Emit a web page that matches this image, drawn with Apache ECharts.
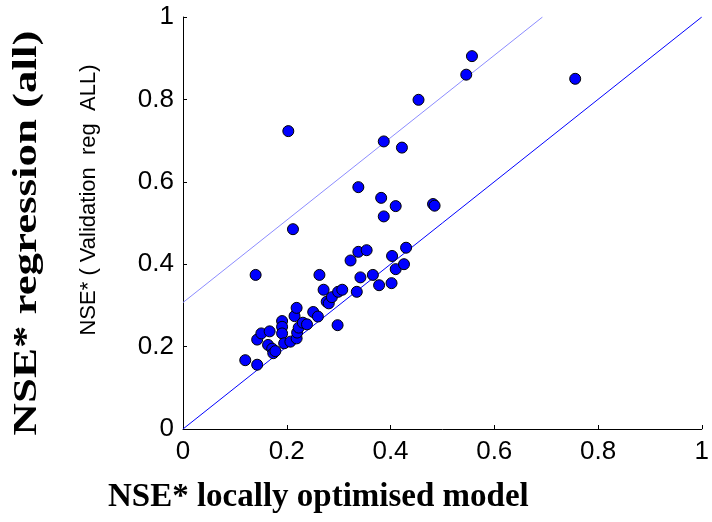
<!DOCTYPE html>
<html>
<head>
<meta charset="utf-8">
<script src="https://cdn.jsdelivr.net/npm/echarts@6/dist/echarts.min.js"></script>
<style>
  html, body { margin: 0; padding: 0; background: #fff; }
  #chart-container { width: 712px; height: 522px; }
</style>
</head>
<body>
<div id="chart-container"></div>
<script>
// NSE* locally optimised model (x) vs NSE* regression (y)
var localNse = [
  0.120, 0.143, 0.140, 0.143, 0.151, 0.167, 0.164, 0.172, 0.174, 0.178,
  0.191, 0.191, 0.191, 0.195, 0.203, 0.207, 0.212, 0.215, 0.219, 0.219,
  0.220, 0.223, 0.231, 0.239, 0.251, 0.260, 0.263, 0.271, 0.277, 0.281,
  0.287, 0.299, 0.307, 0.298, 0.323, 0.335, 0.338, 0.338, 0.342, 0.354,
  0.366, 0.378, 0.382, 0.387, 0.387, 0.402, 0.403, 0.410, 0.410, 0.422,
  0.426, 0.430, 0.454, 0.482, 0.485, 0.546, 0.557, 0.756
];
var regressionNse = [
  0.167, 0.156, 0.374, 0.217, 0.232, 0.237, 0.204, 0.195, 0.184, 0.189,
  0.262, 0.248, 0.232, 0.208, 0.723, 0.212, 0.485, 0.274, 0.294, 0.220,
  0.234, 0.246, 0.258, 0.254, 0.284, 0.273, 0.374, 0.338, 0.309, 0.305,
  0.320, 0.333, 0.338, 0.252, 0.409, 0.333, 0.430, 0.587, 0.368, 0.434,
  0.374, 0.349, 0.561, 0.698, 0.516, 0.354, 0.420, 0.388, 0.541, 0.683,
  0.400, 0.440, 0.799, 0.546, 0.542, 0.860, 0.905, 0.850
];
// reference lines: 1:1 and offset line
var oneToOne = [[0, 0], [1, 1]];
var upperLine = [[0, 0.307], [0.693, 1]];
var tickValues = [0, 0.2, 0.4, 0.6, 0.8, 1];

var chart = echarts.init(document.getElementById("chart-container"));

var points = localNse.map(function (x, i) { return [x, regressionNse[i]]; });

var axisCommon = {
    type: "value",
    min: 0,
    max: 1,
    interval: 0.2,
    splitLine: { show: false },
    axisLine: { show: true, onZero: false, lineStyle: { color: "#000", width: 1 } },
    axisTick: { show: true, inside: true, length: 4, lineStyle: { color: "#000" } },
    axisLabel: {
        color: "#000",
        fontFamily: "Liberation Sans, Arial",
        fontSize: 26,
        formatter: function (v) {
            var r = Math.round(v * 10) / 10;
            return tickValues.indexOf(r) >= 0 ? String(r) : "";
        }
    }
};

var options = {
    animation: false,
    backgroundColor: "#fff",
    grid: { left: 183, right: 5, top: 17, bottom: 93 },
    xAxis: Object.assign({}, axisCommon, {
        axisLabel: Object.assign({}, axisCommon.axisLabel, { margin: 10 })
    }),
    yAxis: Object.assign({}, axisCommon, {
        axisLabel: Object.assign({}, axisCommon.axisLabel, { margin: 9 })
    }),
    graphic: [
        {
            // the x tick labels are cut off at the bottom in the original
            type: "rect",
            shape: { x: 150, y: 460, width: 562, height: 14 },
            style: { fill: "#fff" },
            z: 100
        },
        {
            type: "text",
            left: 108,
            top: 481,
            style: {
                text: "NSE* locally optimised model",
                font: "bold 33px 'Liberation Serif', 'Times New Roman', serif",
                fill: "#000"
            }
        },
        {
            type: "text",
            x: 27,
            y: 233,
            rotation: Math.PI / 2,
            scaleX: 1.32,
            style: {
                text: "NSE* regression (all)",
                font: "bold 34px 'Liberation Serif', 'Times New Roman', serif",
                fill: "#000",
                align: "center",
                verticalAlign: "middle"
            }
        },
        {
            type: "text",
            x: 89,
            y: 200,
            rotation: Math.PI / 2,
            style: {
                text: "NSE* ( Validation  reg  ALL)",
                font: "22px 'Liberation Sans', Arial, sans-serif",
                fill: "#000",
                align: "center",
                verticalAlign: "middle"
            }
        }
    ],
    series: [
        {
            type: "line",
            data: oneToOne,
            symbol: "none",
            lineStyle: { color: "#0000ff", width: 1 },
            z: 1
        },
        {
            type: "line",
            data: upperLine,
            symbol: "none",
            lineStyle: { color: "#8c8cff", width: 1 },
            z: 1
        },
        {
            type: "scatter",
            data: points,
            symbol: "circle",
            symbolSize: 11,
            itemStyle: { color: "#0000ff", borderColor: "#000", borderWidth: 1, opacity: 1 },
            z: 3
        }
    ]
};

chart.setOption(options);
</script>
</body>
</html>
